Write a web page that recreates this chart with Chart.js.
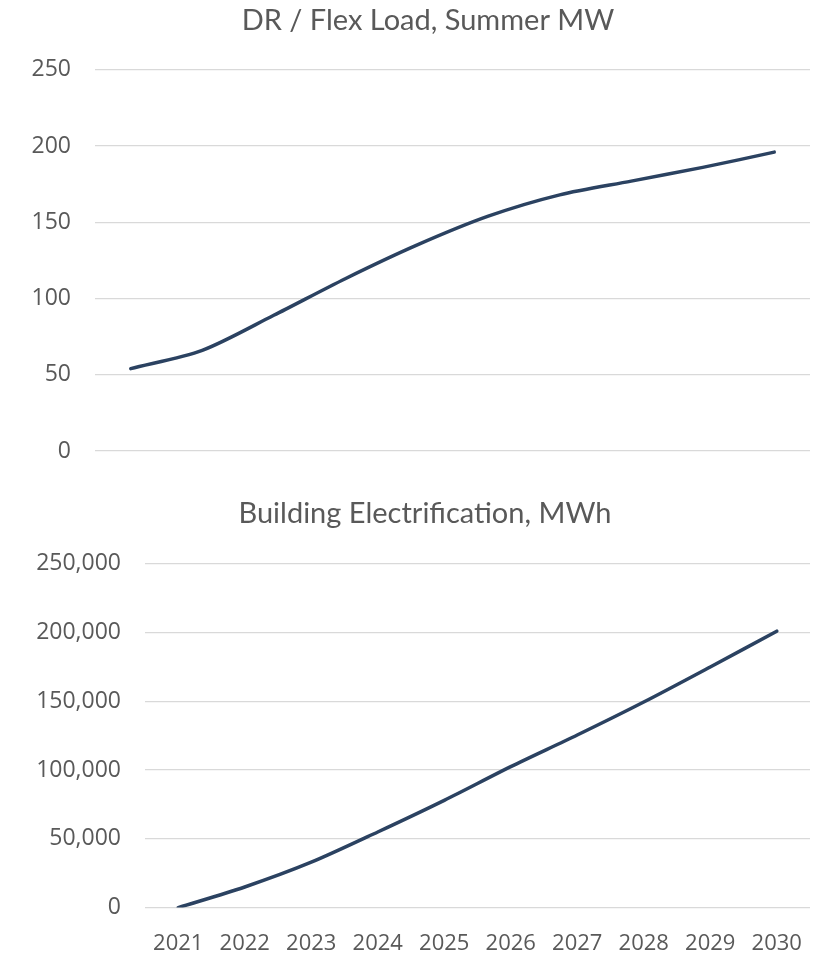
<!DOCTYPE html>
<html>
<head>
<meta charset="utf-8">
<script src="https://cdn.jsdelivr.net/npm/chart.js@4"></script>
<style>
  html, body { margin: 0; padding: 0; background: #ffffff; overflow: hidden; }
  #wrap { position: relative; width: 820px; height: 957px; overflow: hidden; }
  #c1wrap { position: absolute; left: 0; top: 0; width: 820px; height: 480px; }
  #c2wrap { position: absolute; left: 0; top: 480px; width: 820px; height: 500px; }
</style>
</head>
<body>
<div id="wrap">
  <div id="c1wrap"><canvas id="c1"></canvas></div>
  <div id="c2wrap"><canvas id="c2"></canvas></div>
</div>
<script>
const years = ["2021","2022","2023","2024","2025","2026","2027","2028","2029","2030"];
const drFlexMW = [54, 66, 89, 113, 135, 154, 168, 177, 186, 196];
const buildingElecMWh = [0, 15000, 33000, 55000, 78000, 102500, 125500, 149500, 175000, 201000];
const title1 = "DR / Flex Load, Summer MW";
const title2 = "Building Electrification, MWh";

const lineColor = "#2b4261";
const textColor = "#595959";
const gridColor = "#d9d9d9";
const titleFont = "Lato, 'Open Sans', sans-serif";
const tickFont = "'Open Sans', sans-serif";

// shifts the title horizontally (the reference centres it over the whole chart incl. axis labels)
const titleShift = {
  id: 'titleShift',
  afterLayout(chart, args, opts) {
    const t = chart.titleBlock;
    if (t && opts.shift) { t.left += opts.shift; t.right += opts.shift; }
  }
};

function makeChart(id, data, title, opts) {
  return new Chart(document.getElementById(id), {
    type: 'line',
    plugins: [titleShift],
    data: {
      labels: years,
      datasets: [{
        data: data,
        borderColor: lineColor,
        borderWidth: 3.5,
        pointRadius: 0,
        tension: 0.28,
        fill: false,
        borderCapStyle: 'round',
        borderJoinStyle: 'round'
      }]
    },
    options: {
      responsive: true,
      maintainAspectRatio: false,
      animation: false,
      layout: { padding: opts.padding },
      plugins: {
        legend: { display: false },
        tooltip: { enabled: false },
        titleShift: { shift: opts.shift },
        title: {
          display: true,
          text: title,
          color: textColor,
          font: { family: titleFont, size: 29, weight: 'normal' },
          padding: opts.titlePadding
        }
      },
      scales: {
        x: {
          display: opts.showX,
          offset: true,
          afterFit: (s) => { s.paddingLeft = 0; s.paddingRight = 0; },
          grid: { display: false, drawTicks: false },
          border: { display: false },
          ticks: {
            color: textColor,
            font: { family: tickFont, size: 22 },
            padding: 23,
            maxRotation: 0,
            autoSkip: false
          }
        },
        y: {
          min: 0,
          max: opts.max,
          afterFit: (s) => { s.width = opts.yWidth; s.paddingTop = 0; s.paddingBottom = 0; },
          grid: { color: gridColor, lineWidth: 1.3, drawTicks: false },
          border: { display: false },
          ticks: {
            stepSize: opts.step,
            color: textColor,
            font: { family: tickFont, size: 23 },
            padding: 24,
            callback: (v) => v.toLocaleString('en-US')
          }
        }
      }
    }
  });
}

makeChart('c1', drFlexMW, title1, {
  padding: { left: 0, right: 10, top: 0, bottom: 29 },
  titlePadding: { top: 3, bottom: 32 },
  showX: false, max: 250, step: 50, yWidth: 95, shift: 23
});

makeChart('c2', buildingElecMWh, title2, {
  padding: { left: 0, right: 10, top: 0, bottom: 0 },
  titlePadding: { top: 16, bottom: 33 },
  showX: true, max: 250000, step: 50000, yWidth: 145, shift: 20
});
</script>
</body>
</html>
